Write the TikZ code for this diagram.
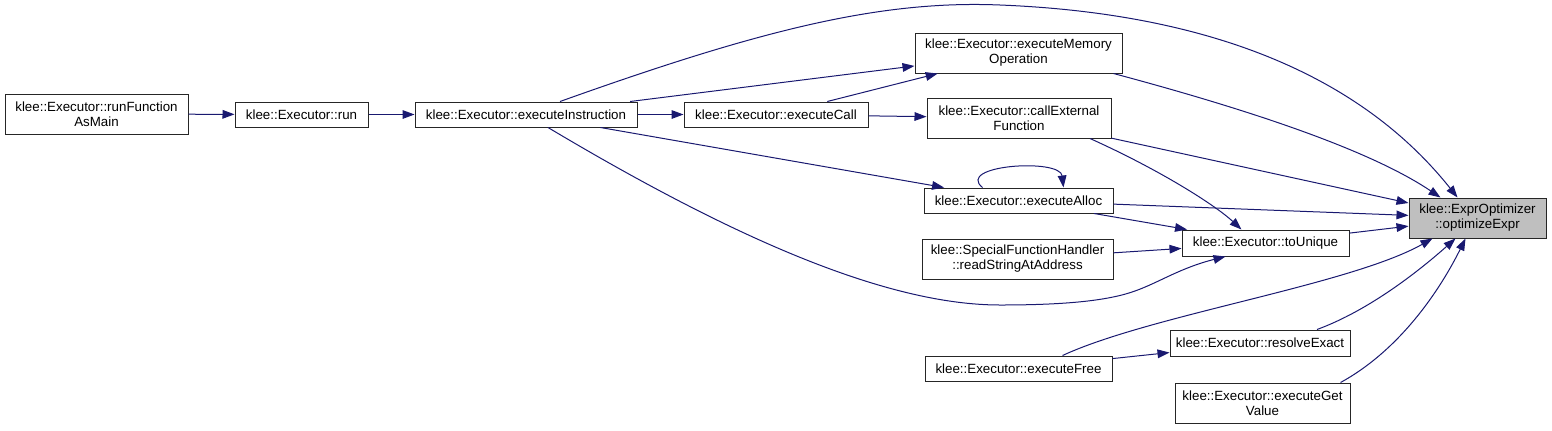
\documentclass[tikz,border=0pt]{standalone}
\usepackage{fontspec}
\setmainfont{Liberation Sans}
\usetikzlibrary{arrows.meta,calc}
\definecolor{edgeblue}{HTML}{191970}
\definecolor{focusgray}{HTML}{BFBFBF}

\begin{document}
\begin{tikzpicture}[
          x=0.75pt, y=-0.75pt,
          box/.style={draw=black!85, line width=0.75pt, fill=white,
                      align=center, inner sep=0pt, minimum height=18.75pt,
                      font=\fontsize{10}{11.25}\selectfont},
          tallbox/.style={box, minimum height=30pt},
          focusbox/.style={tallbox, fill=focusgray},
          arr/.style={-{Triangle[length=9pt,width=6.5pt]}, line width=0.75pt, edgeblue}
        ]
        \useasboundingbox (0,0) rectangle (1552,430);
        \node[tallbox, minimum width=137.25pt] (rfm) at (96.5,114) {klee::Executor::runFunction\\AsMain};
        \node[box, minimum width=99.75pt] (run) at (301.5,114.5) {klee::Executor::run};
        \node[box, minimum width=166.5pt] (ei) at (526,114.5) {klee::Executor::executeInstruction};
        \node[box, minimum width=138pt] (ec) at (776,114.5) {klee::Executor::executeCall};
        \node[tallbox, minimum width=155.25pt] (emo) at (1018.5,53) {klee::Executor::executeMemory\\Operation};
        \node[tallbox, minimum width=138pt] (cef) at (1019,118) {klee::Executor::callExternal\\Function};
        \node[box, minimum width=141.75pt] (ea) at (1018.5,200.5) {klee::Executor::executeAlloc};
        \node[tallbox, minimum width=143.25pt] (rsa) at (1017.5,259) {klee::SpecialFunctionHandler\\::readStringAtAddress};
        \node[box, minimum width=125.25pt, minimum height=19.5pt] (tu) at (1265.5,243) {klee::Executor::toUnique};
        \node[focusbox, minimum width=102.75pt] (oe) at (1477.5,218) {klee::ExprOptimizer\\::optimizeExpr};
        \node[box, minimum width=140.25pt] (ef) at (1018.5,368.5) {klee::Executor::executeFree};
        \node[box, minimum width=135pt, minimum height=19.5pt] (re) at (1260,343) {klee::Executor::resolveExact};
        \node[tallbox, minimum width=131.25pt] (egv) at (1262.5,403) {klee::Executor::executeGet\\Value};
        % call chain on the left
        \draw[arr] (rfm) -- (run);
        \draw[arr] (run) -- (ei);
        \draw[arr] (ei) -- (ec);
        \draw[arr] (ei) -- (emo);
        \draw[arr] (ec) -- (emo);
        \draw[arr] (ec) -- (cef);
        \draw[arr] (ei) -- (ea);
        \draw[arr] ($(ea.north)+(-36,0)$) .. controls (955,165) and (1060,158) .. ($(ea.north)+(45,0)$);
        % into toUnique
        \draw[arr] ($(cef.south)+(71,0)$) .. controls (1160,170) and (1215,205) .. ($(tu.north)+(-24,0)$);
        \draw[arr] (ea) -- (tu);
        \draw[arr] (rsa) -- (tu);
        \draw[arr] ($(ei.south)+(22,0)$) .. controls (720,230) and (880,305) .. (1000,305)
              .. controls (1070,305) and (1110,300) .. (1135,291)
              .. controls (1160,282) and (1180,268) .. ($(tu.south)+(-40,0)$);
        % into optimizeExpr
        \draw[arr] ($(ei.north)+(34,0)$) .. controls (760,30) and (880,0) .. (1000,5)
              .. controls (1250,15) and (1380,100) .. ($(oe.north)+(-20,0)$);
        \draw[arr] ($(emo.south east)+(-9,0)$) .. controls (1250,110) and (1370,150) .. ($(oe.north)+(-37,0)$);
        \draw[arr] (cef) -- (oe);
        \draw[arr] (ea) -- (oe);
        \draw[arr] (tu) -- (oe);
        \draw[arr] (ef) -- (re);
        \draw[arr] ($(ef.north)+(44,0)$) .. controls (1150,315) and (1350,285) .. ($(oe.south)+(-45,0)$);
        \draw[arr] ($(re.north)+(57,0)$) .. controls (1370,310) and (1420,270) .. ($(oe.south)+(-22,0)$);
        \draw[arr] ($(egv.north)+(78,0)$) .. controls (1400,350) and (1440,290) .. ($(oe.south)+(-12,0)$);
      \end{tikzpicture}
\end{document}
